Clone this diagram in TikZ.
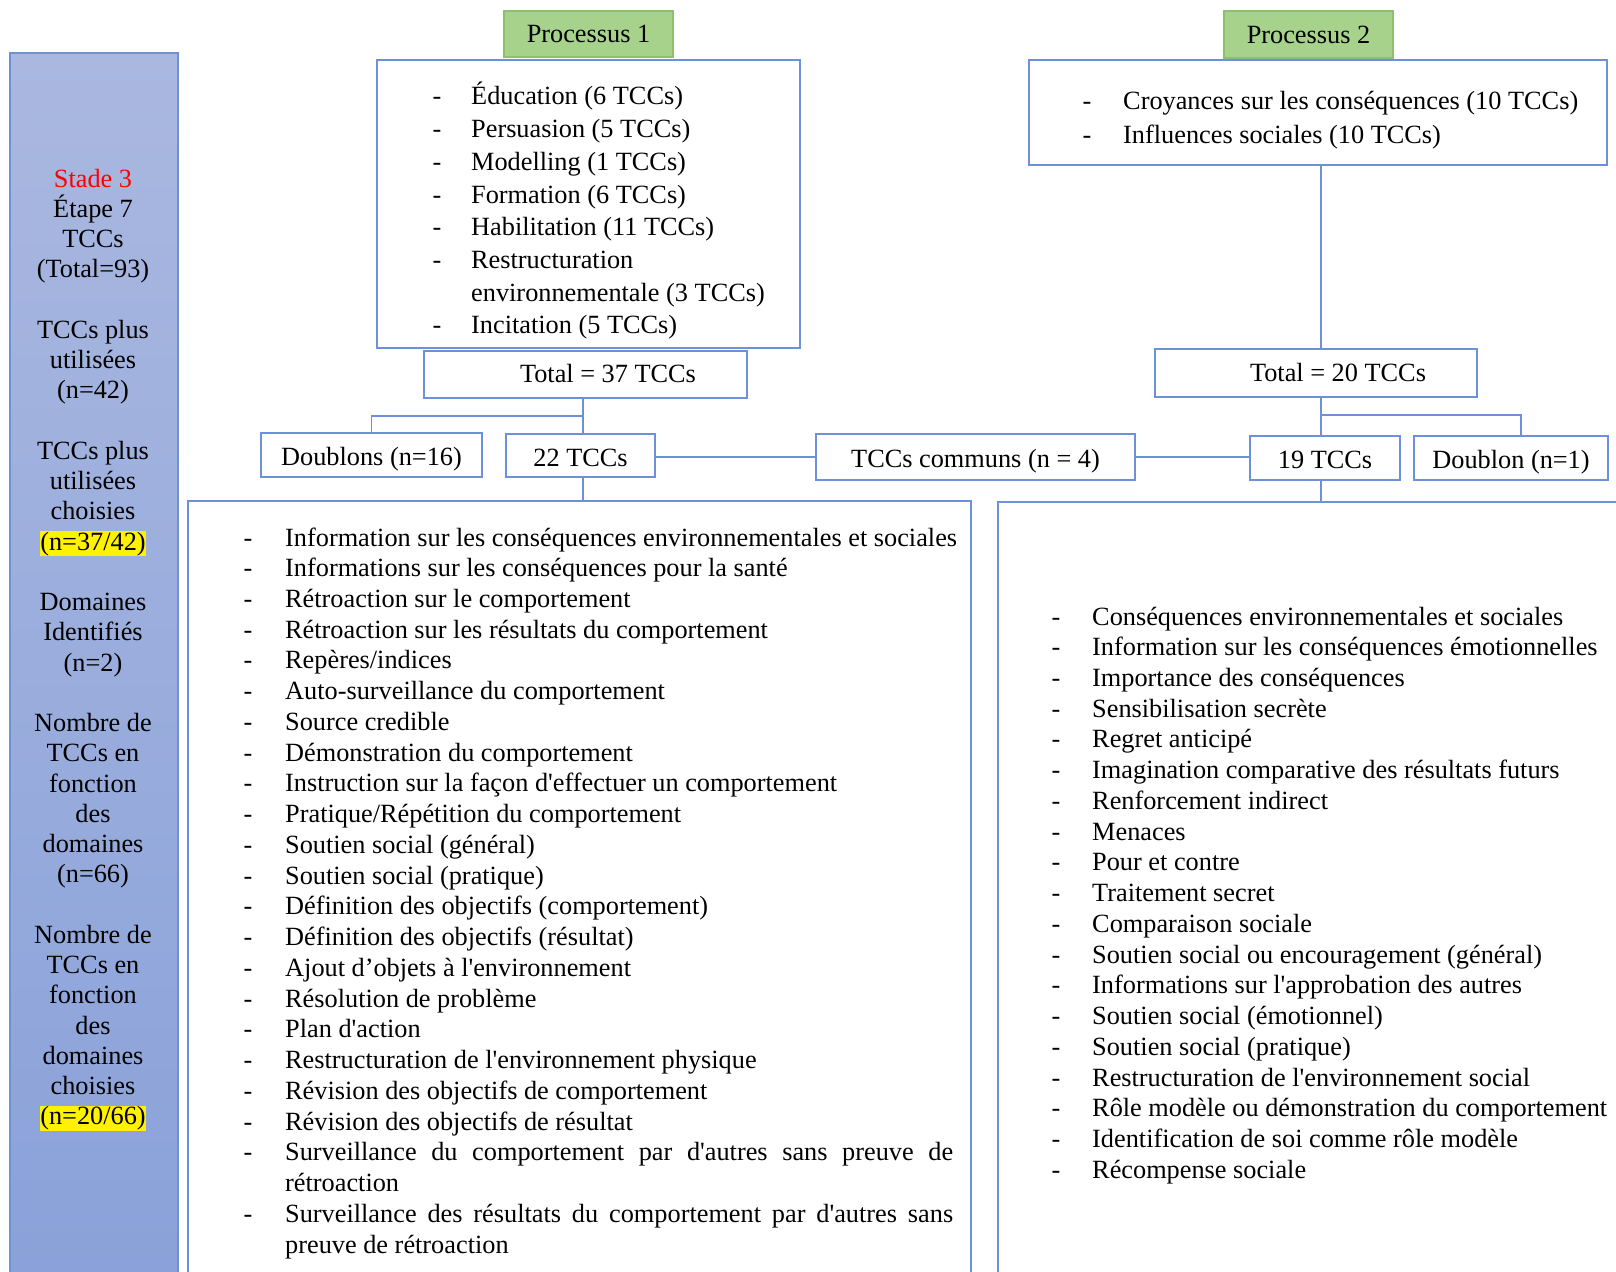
\documentclass[tikz,border=0pt]{standalone}
\usepackage{fontspec}
\setmainfont{Liberation Serif}[Ligatures=TeXOff]
\definecolor{bl}{RGB}{108,145,218}
\definecolor{sbtop}{RGB}{170,184,224}
\definecolor{sbbot}{RGB}{137,161,217}
\definecolor{sbline}{RGB}{112,144,212}
\definecolor{gfill}{RGB}{166,210,140}
\definecolor{gline}{RGB}{140,192,110}
\newcommand\fs{\fontsize{26.3}{30.7}\selectfont}
\newcommand\hl[1]{{\setlength\fboxsep{0.6pt}\colorbox{yellow}{#1}}}
\newcommand\bxat[6]{\node[#6, anchor=north west, minimum width=#4pt, minimum height=#5pt] (#1) at (#2,#3) {};}
\begin{document}
\begin{tikzpicture}[x=1pt,y=-1pt, font=\fs,
  box/.style={draw=bl, line width=2pt, rectangle, inner sep=0pt},
  rowbox/.style={box, text height=21pt, text depth=0pt},
  gbox/.style={draw=gline, fill=gfill, line width=1.5pt, rectangle, inner sep=0pt},
  sbar/.style={draw=sbline, line width=2pt, top color=sbtop, bottom color=sbbot, rectangle, inner sep=0pt},
  conn/.style={draw=bl, line width=1.6pt},
  tx/.style={inner sep=0pt, anchor=base west},
  dsh/.style={inner sep=0pt, anchor=base},
  ctx/.style={inner sep=0pt, anchor=base}]
\useasboundingbox (0,0) rectangle (1616,1271);
\clip (0,0) rectangle (1616,1271);
\fill[white] (0,0) rectangle (1616,1271);

% sidebar
\bxat{side}{9}{52}{168}{1260}{sbar}
\foreach \i/\t [count=\c] in {0/{\textcolor{red}{Stade 3}}, 1/{Étape 7}, 2/{TCCs}, 3/{(Total=93)},
  5/{TCCs plus}, 6/{utilisées}, 7/{(n=42)},
  9/{TCCs plus}, 10/{utilisées}, 11/{choisies}, 12/{\hl{(n=37/42)}},
  14/{Domaines}, 15/{Identifiés}, 16/{(n=2)},
  18/{Nombre de}, 19/{TCCs en}, 20/{fonction}, 21/{des}, 22/{domaines}, 23/{(n=66)},
  25/{Nombre de}, 26/{TCCs en}, 27/{fonction}, 28/{des}, 29/{domaines}, 30/{choisies}, 31/{\hl{(n=20/66)}}}
  \node[ctx] (s\c) at (93,{178+\i*30.25+9}) {\t};

% Processus 1
\bxat{b1}{376}{59}{423}{288}{box}
\node[gbox, minimum width=169pt, minimum height=46pt] (p1) at (588.5,34) {Processus 1};
\foreach \t [count=\k from 0] in {Éducation (6 TCCs), Persuasion (5 TCCs), Modelling (1 TCCs),
  Formation (6 TCCs), Habilitation (11 TCCs), Restructuration, environnementale (3 TCCs), Incitation (5 TCCs)}
  \node[tx] (l1\k) at (471,{96+\k*32.7+9}) {\t};
\foreach \k in {0,1,2,3,4,5,7}
  \node[dsh] (d1\k) at (437,{96+\k*32.7+9}) {-};

% Processus 2
\bxat{b2}{1028}{59}{578}{105}{box}
\node[gbox, minimum width=169pt, minimum height=47pt] (p2) at (1308.5,34.5) {Processus 2};
\foreach \t [count=\k from 0] in {Croyances sur les conséquences (10 TCCs), Influences sociales (10 TCCs)}
  {\node[tx] (l2\k) at (1123,{101+\k*33+9}) {\t};
   \node[dsh] (d2\k) at (1087,{101+\k*33+9}) {-};}

% totals
\bxat{t37}{423}{350}{323}{47}{box}
\node[ctx] (t37txt) at (608,382) {Total = 37 TCCs};
\bxat{t20}{1154}{348}{322}{48}{box}
\node[ctx] (t20txt) at (1338,381) {Total = 20 TCCs};

% second row
\node[rowbox, minimum width=221pt, minimum height=44pt] (dbl) at (371.5,455) {Doublons (n=16)};
\node[rowbox, minimum width=149pt, minimum height=43pt] (n22) at (580.5,455.5) {22 TCCs};
\node[rowbox, minimum width=319pt, minimum height=46pt] (com) at (975.5,457) {TCCs communs (n = 4)};
\node[rowbox, minimum width=150pt, minimum height=44pt] (n19) at (1325,458) {19 TCCs};
\node[rowbox, minimum width=194pt, minimum height=44pt] (dbl1) at (1511,458) {Doublon (n=1)};

% big boxes
\bxat{bigL}{187}{500}{783}{820}{box}
\bxat{bigR}{997}{501}{680}{820}{box}

\foreach \t [count=\k from 0] in {Information sur les conséquences environnementales et sociales,
  Informations sur les conséquences pour la santé, Rétroaction sur le comportement,
  Rétroaction sur les résultats du comportement, Repères/indices, Auto-surveillance du comportement,
  Source credible, Démonstration du comportement, Instruction sur la façon d'effectuer un comportement,
  Pratique/Répétition du comportement, Soutien social (général), Soutien social (pratique),
  Définition des objectifs (comportement), Définition des objectifs (résultat),
  Ajout d’objets à l'environnement, Résolution de problème, Plan d'action,
  Restructuration de l'environnement physique, Révision des objectifs de comportement,
  Révision des objectifs de résultat}
  {\node[tx] (lL\k) at (285,{537+\k*30.74+9}) {\t};
   \node[dsh] (dL\k) at (248,{537+\k*30.74+9}) {-};}
\node[tx] (lL20) at (285,{537+20*30.74+9}) {\makebox[668pt][s]{Surveillance du comportement par d'autres sans preuve de}};
\node[dsh] (dL20) at (248,{537+20*30.74+9}) {-};
\node[tx] (lL21) at (285,{537+21*30.74+9}) {rétroaction};
\node[tx] (lL22) at (285,{537+22*30.74+9}) {\makebox[668pt][s]{Surveillance des résultats du comportement par d'autres sans}};
\node[dsh] (dL22) at (248,{537+22*30.74+9}) {-};
\node[tx] (lL23) at (285,{537+23*30.74+9}) {preuve de rétroaction};

\foreach \t [count=\k from 0] in {Conséquences environnementales et sociales,
  Information sur les conséquences émotionnelles, Importance des conséquences,
  Sensibilisation secrète, Regret anticipé, Imagination comparative des résultats futurs,
  Renforcement indirect, Menaces, Pour et contre, Traitement secret, Comparaison sociale,
  Soutien social ou encouragement (général), Informations sur l'approbation des autres,
  Soutien social (émotionnel), Soutien social (pratique), Restructuration de l'environnement social,
  Rôle modèle ou démonstration du comportement, Identification de soi comme rôle modèle,
  Récompense sociale}
  {\node[tx] (lR\k) at (1092,{616+\k*30.74+9}) {\t};
   \node[dsh] (dR\k) at (1056,{616+\k*30.74+9}) {-};}

% connectors
\coordinate (j1) at (583,416);
\draw[conn] (t37.south -| j1) -- (n22.north -| j1);
\draw[conn] (j1) -| (dbl.north);
\draw[conn] (n22.south -| j1) -- (bigL.north -| j1);
\draw[conn] (n22.east |- com.west) -- (com.west);
\draw[conn] (com.east) -- (com.east -| n19.west);
\coordinate (j2) at (1321,415);
\coordinate (j2r) at (1521,415);
\draw[conn] (b2.south -| j2) -- (t20.north -| j2);
\draw[conn] (t20.south -| j2) -- (n19.north -| j2);
\draw[conn] (j2) -- (j2r) -- (j2r |- dbl1.north);
\draw[conn] (n19.south -| j2) -- (bigR.north -| j2);
\end{tikzpicture}
\end{document}
